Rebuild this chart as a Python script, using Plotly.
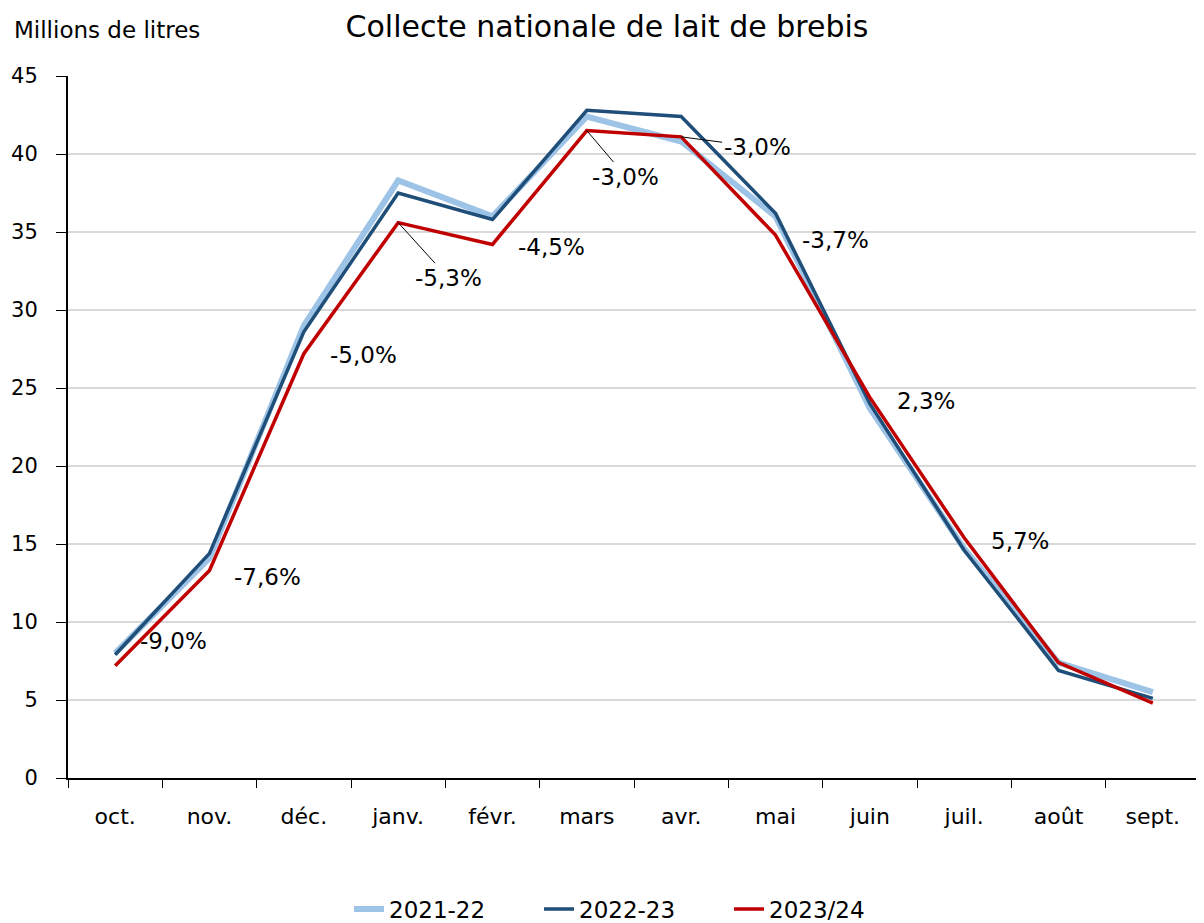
import plotly.graph_objects as go

months = ["oct.", "nov.", "déc.", "janv.", "févr.", "mars", "avr.", "mai", "juin", "juil.", "août", "sept."]
s2122 = [8.0, 14.1, 29.0, 38.3, 36.0, 42.4, 40.8, 36.0, 23.7, 14.7, 7.4, 5.5]
s2223 = [7.9, 14.4, 28.6, 37.5, 35.8, 42.8, 42.4, 36.2, 24.0, 14.6, 6.9, 5.1]
s2324 = [7.2, 13.3, 27.2, 35.6, 34.2, 41.5, 41.1, 34.8, 24.4, 15.4, 7.4, 4.8]
pct_labels = ["-9,0%", "-7,6%", "-5,0%", "-5,3%", "-4,5%", "-3,0%", "-3,0%", "-3,7%", "2,3%", "5,7%", None, None]

FONT = "DejaVu Sans"
W, H = 1196, 915
L, R, T, B = 60, 4, 68, 145
PW, PH = W - L - R, H - T - B

fig = go.Figure()
fig.add_trace(go.Scatter(x=months, y=s2122, name="2021-22", mode="lines",
                         line=dict(color="#9DC3E6", width=6)))
fig.add_trace(go.Scatter(x=months, y=s2223, name="2022-23", mode="lines",
                         line=dict(color="#1F4E79", width=3.5)))
fig.add_trace(go.Scatter(x=months, y=s2324, name="2023/24", mode="lines",
                         line=dict(color="#C00000", width=3.5)))

# label placement (pixel offsets from the 2023/24 point)
shifts = {0: (58, 25), 1: (58, -6), 2: (60, -1), 4: (59, -3), 7: (60, -5), 8: (56, -4), 9: (56, -3)}
arrows = {3: (50, 55), 5: (39, 46), 6: (76, 10)}
for i, lab in enumerate(pct_labels):
    if lab is None:
        continue
    if i in arrows:
        ax, ay = arrows[i]
        fig.add_annotation(x=months[i], y=s2324[i], text=lab, showarrow=True,
                           arrowhead=0, arrowwidth=1, arrowcolor="black",
                           ax=ax, ay=ay, standoff=0,
                           font=dict(family=FONT, size=23, color="black"))
    else:
        xs, ys = shifts[i]
        fig.add_annotation(x=months[i], y=s2324[i], text=lab, showarrow=False,
                           xshift=xs, yshift=ys,
                           font=dict(family=FONT, size=23, color="black"))

fig.add_annotation(x=(4 - L) / PW, y=1 + (T - 22) / PH, xref="paper", yref="paper",
                   text="Millions de litres", showarrow=False, xanchor="left", yanchor="middle",
                   font=dict(family=FONT, size=23, color="black"))

fig.update_layout(
    width=W, height=H,
    margin=dict(l=L, r=R, t=T, b=B, autoexpand=False),
    paper_bgcolor="white", plot_bgcolor="white",
    font=dict(family=FONT, size=22, color="black"),
    title=dict(text="Collecte nationale de lait de brebis", x=599 / W, xanchor="center",
               y=1 - 18 / H, yanchor="middle", font=dict(family=FONT, size=30, color="black")),
    legend=dict(orientation="h", x=0.5, xanchor="center", y=(770 - 901) / PH, yanchor="middle",
                font=dict(family=FONT, size=23), traceorder="normal",
                entrywidth=145, entrywidthmode="pixels"),
    showlegend=True,
)
fig.update_xaxes(type="category", range=[-0.5, 11.5], tickson="boundaries", ticks="outside", ticklen=8,
                 tickcolor="black", showline=True, linecolor="black", linewidth=2,
                 showgrid=False, tickfont=dict(family=FONT, size=22), ticklabelstandoff=18)
fig.update_yaxes(range=[0, 45], dtick=5, ticks="outside", ticklen=10, tickcolor="black",
                 showline=True, linecolor="black", linewidth=2,
                 showgrid=True, gridcolor="#D9D9D9", gridwidth=2,
                 zeroline=False, tickfont=dict(family=FONT, size=21), ticklabelstandoff=14)

fig.write_html("out.html")
